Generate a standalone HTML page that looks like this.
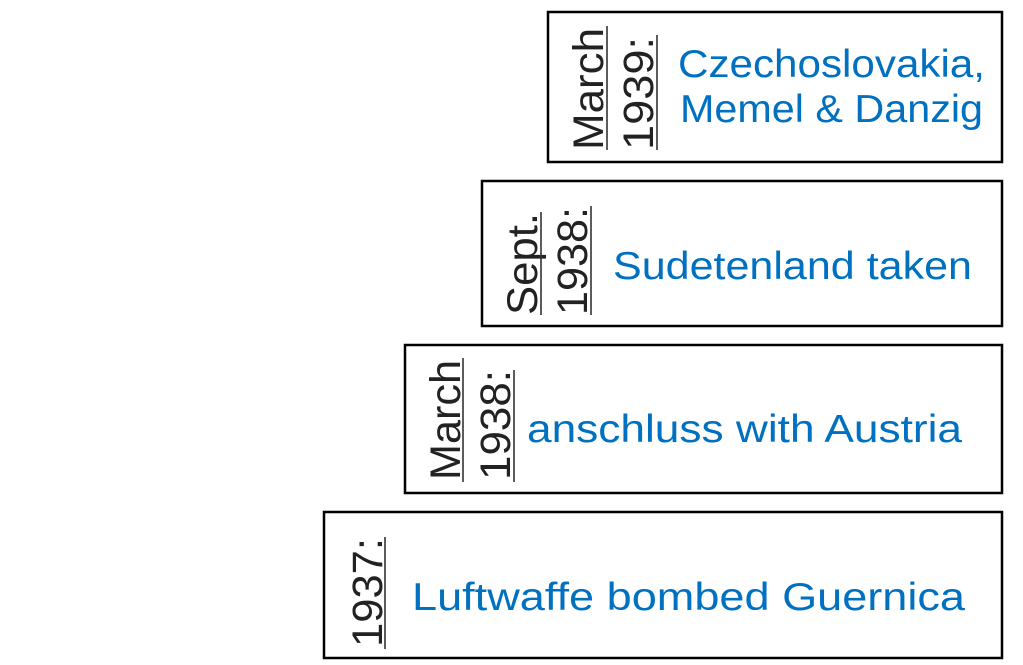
<!DOCTYPE html>
<html><head><meta charset="utf-8"><style>
html,body{margin:0;padding:0;background:#fff;width:1023px;height:665px;overflow:hidden}
svg{display:block}
.d{font-family:"Liberation Sans",sans-serif;font-size:43px;fill:#222}
.b{font-family:"Liberation Sans",sans-serif;font-size:39px;fill:#0070c0}
</style></head><body>
<svg width="1023" height="665" viewBox="0 0 1023 665" xmlns="http://www.w3.org/2000/svg">
<g fill="none" stroke="#000" stroke-width="2.5">
<rect x="548" y="12" width="454" height="150"/>
<rect x="482" y="181" width="520" height="145"/>
<rect x="405" y="345" width="597" height="148"/>
<rect x="324" y="512" width="678" height="146"/>
</g>
<g class="d">
<text transform="translate(603,150) rotate(-90)" textLength="122" lengthAdjust="spacingAndGlyphs">March</text>
<text transform="translate(653,150) rotate(-90)" textLength="113" lengthAdjust="spacingAndGlyphs">1939:</text>
<text transform="translate(537,315) rotate(-90)" textLength="102" lengthAdjust="spacingAndGlyphs">Sept.</text>
<text transform="translate(587,315) rotate(-90)" textLength="108" lengthAdjust="spacingAndGlyphs">1938:</text>
<text transform="translate(460,480) rotate(-90)" textLength="120" lengthAdjust="spacingAndGlyphs">March</text>
<text transform="translate(510,480) rotate(-90)" textLength="110" lengthAdjust="spacingAndGlyphs">1938:</text>
<text transform="translate(382,647) rotate(-90)" textLength="109" lengthAdjust="spacingAndGlyphs">1937:</text>
</g>
<g stroke="#333" stroke-width="1.6">
<line x1="607" y1="150" x2="607" y2="26"/>
<line x1="657" y1="150" x2="657" y2="35"/>
<line x1="541" y1="315" x2="541" y2="212"/>
<line x1="591" y1="315" x2="591" y2="206"/>
<line x1="463" y1="482" x2="463" y2="358"/>
<line x1="514" y1="482" x2="514" y2="370"/>
<line x1="385" y1="649" x2="385" y2="537"/>
</g>
<g class="b">
<text x="678" y="77" textLength="307" lengthAdjust="spacingAndGlyphs">Czechoslovakia,</text>
<text x="680" y="122" textLength="303" lengthAdjust="spacingAndGlyphs">Memel &amp; Danzig</text>
<text x="613" y="279" textLength="359" lengthAdjust="spacingAndGlyphs">Sudetenland taken</text>
<text x="527" y="442" textLength="435" lengthAdjust="spacingAndGlyphs">anschluss with Austria</text>
<text x="412" y="610" textLength="553" lengthAdjust="spacingAndGlyphs">Luftwaffe bombed Guernica</text>
</g>
</svg>
</body></html>
